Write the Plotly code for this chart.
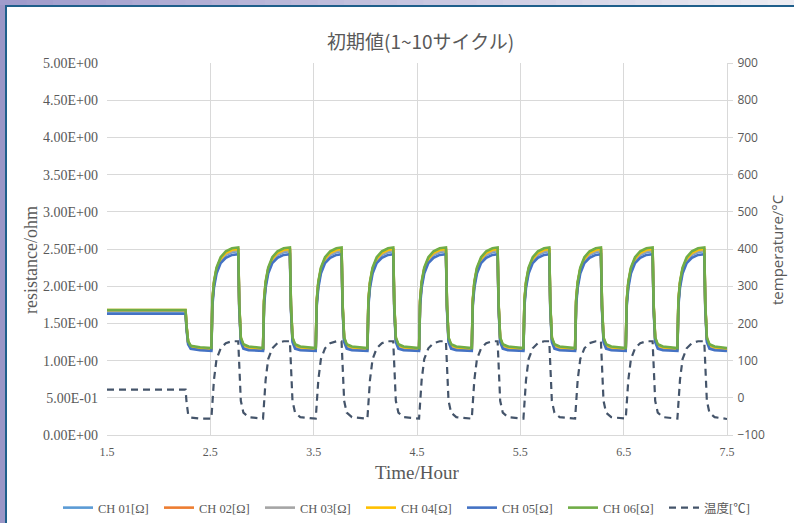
import plotly.graph_objects as go

# ---- data -----------------------------------------------------------------
TIME_HOURS = [
    1.50, 2.26, 2.27, 2.285, 2.31, 2.40,
    2.51, 2.52, 2.535, 2.56, 2.60, 2.65, 2.71, 2.77, 2.78, 2.795, 2.82, 2.87,
    3.01, 3.02, 3.035, 3.06, 3.10, 3.15, 3.21, 3.27, 3.28, 3.295, 3.32, 3.37,
    3.52, 3.53, 3.545, 3.57, 3.61, 3.66, 3.72, 3.77, 3.78, 3.795, 3.82, 3.87,
    4.02, 4.03, 4.045, 4.07, 4.11, 4.16, 4.22, 4.27, 4.28, 4.295, 4.32, 4.37,
    4.52, 4.53, 4.545, 4.57, 4.61, 4.66, 4.72, 4.78, 4.79, 4.805, 4.83, 4.88,
    5.03, 5.04, 5.055, 5.08, 5.12, 5.17, 5.23, 5.28, 5.29, 5.305, 5.33, 5.38,
    5.53, 5.54, 5.555, 5.58, 5.62, 5.67, 5.73, 5.78, 5.79, 5.805, 5.83, 5.88,
    6.03, 6.04, 6.055, 6.08, 6.12, 6.17, 6.23, 6.28, 6.29, 6.305, 6.33, 6.38,
    6.52, 6.53, 6.545, 6.57, 6.61, 6.66, 6.72, 6.78, 6.79, 6.805, 6.83, 6.88,
    7.02, 7.03, 7.045, 7.07, 7.11, 7.16, 7.22, 7.28, 7.29, 7.305, 7.33, 7.38,
    7.50,
]

CH01 = [
    1.66, 1.66, 1.44, 1.24, 1.18, 1.16,
    1.15, 1.78, 2.02, 2.21, 2.35, 2.42, 2.46, 2.47, 1.72, 1.28, 1.19, 1.16,
    1.15, 1.78, 2.02, 2.21, 2.35, 2.42, 2.46, 2.47, 1.72, 1.28, 1.19, 1.16,
    1.15, 1.78, 2.02, 2.21, 2.35, 2.42, 2.46, 2.47, 1.72, 1.28, 1.19, 1.16,
    1.15, 1.78, 2.02, 2.21, 2.35, 2.42, 2.46, 2.47, 1.72, 1.28, 1.19, 1.16,
    1.15, 1.78, 2.02, 2.21, 2.35, 2.42, 2.46, 2.47, 1.72, 1.28, 1.19, 1.16,
    1.15, 1.78, 2.02, 2.21, 2.35, 2.42, 2.46, 2.47, 1.72, 1.28, 1.19, 1.16,
    1.15, 1.78, 2.02, 2.21, 2.35, 2.42, 2.46, 2.47, 1.72, 1.28, 1.19, 1.16,
    1.15, 1.78, 2.02, 2.21, 2.35, 2.42, 2.46, 2.47, 1.72, 1.28, 1.19, 1.16,
    1.15, 1.78, 2.02, 2.21, 2.35, 2.42, 2.46, 2.47, 1.72, 1.28, 1.19, 1.16,
    1.15, 1.78, 2.02, 2.21, 2.35, 2.42, 2.46, 2.47, 1.72, 1.28, 1.19, 1.16,
    1.15,
]

CH02 = [
    1.67, 1.67, 1.45, 1.25, 1.19, 1.17,
    1.16, 1.80, 2.04, 2.23, 2.37, 2.44, 2.48, 2.49, 1.74, 1.29, 1.20, 1.17,
    1.16, 1.80, 2.04, 2.23, 2.37, 2.44, 2.48, 2.49, 1.74, 1.29, 1.20, 1.17,
    1.16, 1.80, 2.04, 2.23, 2.37, 2.44, 2.48, 2.49, 1.74, 1.29, 1.20, 1.17,
    1.16, 1.80, 2.04, 2.23, 2.37, 2.44, 2.48, 2.49, 1.74, 1.29, 1.20, 1.17,
    1.16, 1.80, 2.04, 2.23, 2.37, 2.44, 2.48, 2.49, 1.74, 1.29, 1.20, 1.17,
    1.16, 1.80, 2.04, 2.23, 2.37, 2.44, 2.48, 2.49, 1.74, 1.29, 1.20, 1.17,
    1.16, 1.80, 2.04, 2.23, 2.37, 2.44, 2.48, 2.49, 1.74, 1.29, 1.20, 1.17,
    1.16, 1.80, 2.04, 2.23, 2.37, 2.44, 2.48, 2.49, 1.74, 1.29, 1.20, 1.17,
    1.16, 1.80, 2.04, 2.23, 2.37, 2.44, 2.48, 2.49, 1.74, 1.29, 1.20, 1.17,
    1.16, 1.80, 2.04, 2.23, 2.37, 2.44, 2.48, 2.49, 1.74, 1.29, 1.20, 1.17,
    1.16,
]

CH03 = [
    1.67, 1.67, 1.45, 1.25, 1.19, 1.17,
    1.16, 1.79, 2.03, 2.22, 2.36, 2.43, 2.47, 2.48, 1.73, 1.29, 1.20, 1.17,
    1.16, 1.79, 2.03, 2.22, 2.36, 2.43, 2.47, 2.48, 1.73, 1.29, 1.20, 1.17,
    1.16, 1.79, 2.03, 2.22, 2.36, 2.43, 2.47, 2.48, 1.73, 1.29, 1.20, 1.17,
    1.16, 1.79, 2.03, 2.22, 2.36, 2.43, 2.47, 2.48, 1.73, 1.29, 1.20, 1.17,
    1.16, 1.79, 2.03, 2.22, 2.36, 2.43, 2.47, 2.48, 1.73, 1.29, 1.20, 1.17,
    1.16, 1.79, 2.03, 2.22, 2.36, 2.43, 2.47, 2.48, 1.73, 1.29, 1.20, 1.17,
    1.16, 1.79, 2.03, 2.22, 2.36, 2.43, 2.47, 2.48, 1.73, 1.29, 1.20, 1.17,
    1.16, 1.79, 2.03, 2.22, 2.36, 2.43, 2.47, 2.48, 1.73, 1.29, 1.20, 1.17,
    1.16, 1.79, 2.03, 2.22, 2.36, 2.43, 2.47, 2.48, 1.73, 1.29, 1.20, 1.17,
    1.16, 1.79, 2.03, 2.22, 2.36, 2.43, 2.47, 2.48, 1.73, 1.29, 1.20, 1.17,
    1.16,
]

CH04 = [
    1.68, 1.68, 1.46, 1.25, 1.19, 1.17,
    1.16, 1.80, 2.04, 2.23, 2.37, 2.45, 2.49, 2.50, 1.74, 1.30, 1.21, 1.18,
    1.16, 1.80, 2.04, 2.23, 2.37, 2.45, 2.49, 2.50, 1.74, 1.30, 1.21, 1.18,
    1.16, 1.80, 2.04, 2.23, 2.37, 2.45, 2.49, 2.50, 1.74, 1.30, 1.21, 1.18,
    1.16, 1.80, 2.04, 2.23, 2.37, 2.45, 2.49, 2.50, 1.74, 1.30, 1.21, 1.18,
    1.16, 1.80, 2.04, 2.23, 2.37, 2.45, 2.49, 2.50, 1.74, 1.30, 1.21, 1.18,
    1.16, 1.80, 2.04, 2.23, 2.37, 2.45, 2.49, 2.50, 1.74, 1.30, 1.21, 1.18,
    1.16, 1.80, 2.04, 2.23, 2.37, 2.45, 2.49, 2.50, 1.74, 1.30, 1.21, 1.18,
    1.16, 1.80, 2.04, 2.23, 2.37, 2.45, 2.49, 2.50, 1.74, 1.30, 1.21, 1.18,
    1.16, 1.80, 2.04, 2.23, 2.37, 2.45, 2.49, 2.50, 1.74, 1.30, 1.21, 1.18,
    1.16, 1.80, 2.04, 2.23, 2.37, 2.45, 2.49, 2.50, 1.74, 1.30, 1.21, 1.18,
    1.16,
]

CH05 = [
    1.63, 1.63, 1.42, 1.22, 1.16, 1.14,
    1.13, 1.74, 1.98, 2.17, 2.31, 2.38, 2.42, 2.43, 1.69, 1.25, 1.16, 1.14,
    1.13, 1.74, 1.98, 2.17, 2.31, 2.38, 2.42, 2.43, 1.69, 1.25, 1.16, 1.14,
    1.13, 1.74, 1.98, 2.17, 2.31, 2.38, 2.42, 2.43, 1.69, 1.25, 1.16, 1.14,
    1.13, 1.74, 1.98, 2.17, 2.31, 2.38, 2.42, 2.43, 1.69, 1.25, 1.16, 1.14,
    1.13, 1.74, 1.98, 2.17, 2.31, 2.38, 2.42, 2.43, 1.69, 1.25, 1.16, 1.14,
    1.13, 1.74, 1.98, 2.17, 2.31, 2.38, 2.42, 2.43, 1.69, 1.25, 1.16, 1.14,
    1.13, 1.74, 1.98, 2.17, 2.31, 2.38, 2.42, 2.43, 1.69, 1.25, 1.16, 1.14,
    1.13, 1.74, 1.98, 2.17, 2.31, 2.38, 2.42, 2.43, 1.69, 1.25, 1.16, 1.14,
    1.13, 1.74, 1.98, 2.17, 2.31, 2.38, 2.42, 2.43, 1.69, 1.25, 1.16, 1.14,
    1.13, 1.74, 1.98, 2.17, 2.31, 2.38, 2.42, 2.43, 1.69, 1.25, 1.16, 1.14,
    1.13,
]

CH06 = [
    1.68, 1.68, 1.46, 1.26, 1.20, 1.18,
    1.17, 1.82, 2.06, 2.25, 2.39, 2.47, 2.51, 2.52, 1.76, 1.31, 1.22, 1.19,
    1.17, 1.82, 2.06, 2.25, 2.39, 2.47, 2.51, 2.52, 1.76, 1.31, 1.22, 1.19,
    1.17, 1.82, 2.06, 2.25, 2.39, 2.47, 2.51, 2.52, 1.76, 1.31, 1.22, 1.19,
    1.17, 1.82, 2.06, 2.25, 2.39, 2.47, 2.51, 2.52, 1.76, 1.31, 1.22, 1.19,
    1.17, 1.82, 2.06, 2.25, 2.39, 2.47, 2.51, 2.52, 1.76, 1.31, 1.22, 1.19,
    1.17, 1.82, 2.06, 2.25, 2.39, 2.47, 2.51, 2.52, 1.76, 1.31, 1.22, 1.19,
    1.17, 1.82, 2.06, 2.25, 2.39, 2.47, 2.51, 2.52, 1.76, 1.31, 1.22, 1.19,
    1.17, 1.82, 2.06, 2.25, 2.39, 2.47, 2.51, 2.52, 1.76, 1.31, 1.22, 1.19,
    1.17, 1.82, 2.06, 2.25, 2.39, 2.47, 2.51, 2.52, 1.76, 1.31, 1.22, 1.19,
    1.17, 1.82, 2.06, 2.25, 2.39, 2.47, 2.51, 2.52, 1.76, 1.31, 1.22, 1.19,
    1.17,
]

TEMP_C = [
    22, 22, -12, -44, -53, -56,
    -56, -12, 48, 104, 133, 147, 152, 152, 72, -8, -40, -52,
    -56, -12, 48, 104, 133, 147, 152, 152, 72, -8, -40, -52,
    -56, -12, 48, 104, 133, 147, 152, 152, 72, -8, -40, -52,
    -56, -12, 48, 104, 133, 147, 152, 152, 72, -8, -40, -52,
    -56, -12, 48, 104, 133, 147, 152, 152, 72, -8, -40, -52,
    -56, -12, 48, 104, 133, 147, 152, 152, 72, -8, -40, -52,
    -56, -12, 48, 104, 133, 147, 152, 152, 72, -8, -40, -52,
    -56, -12, 48, 104, 133, 147, 152, 152, 72, -8, -40, -52,
    -56, -12, 48, 104, 133, 147, 152, 152, 72, -8, -40, -52,
    -56, -12, 48, 104, 133, 147, 152, 152, 72, -8, -40, -52,
    -57,
]

SERIES_NAMES = ["CH 01[Ω]", "CH 02[Ω]", "CH 03[Ω]", "CH 04[Ω]", "CH 05[Ω]", "CH 06[Ω]"]
TEMP_NAME = "温度[℃]"

X_TICKS = [1.5, 2.5, 3.5, 4.5, 5.5, 6.5, 7.5]
R_TICKS = [0.0, 0.5, 1.0, 1.5, 2.0, 2.5, 3.0, 3.5, 4.0, 4.5, 5.0]
R_TICK_TEXT = ["0.00E+00", "5.00E-01", "1.00E+00", "1.50E+00", "2.00E+00",
               "2.50E+00", "3.00E+00", "3.50E+00", "4.00E+00", "4.50E+00", "5.00E+00"]
T_TICKS = [-100, 0, 100, 200, 300, 400, 500, 600, 700, 800, 900]

# ---- styling ----------------------------------------------------------------
W, H = 794, 523
L, R, T, B = 107, 67, 63, 88          # plot area: x 107..727, y 63..435
PW, PH = W - L - R, H - T - B

COLORS = ["#5B9BD5", "#ED7D31", "#A5A5A5", "#FFC000", "#4472C4", "#70AD47"]
TEMP_COLOR = "#44546A"
GRID = "#D9D9D9"
TXT = "#595959"
SERIF = "Liberation Serif, Times New Roman, serif"
SANS = "Open Sans, Noto Sans, sans-serif"
CJK = "Noto Sans CJK JP, sans-serif"


def px_x(px):
    return (px - L) / PW


def px_y(py):
    return (H - B - py) / PH


fig = go.Figure()

for name, vals, col in zip(SERIES_NAMES, [CH01, CH02, CH03, CH04, CH05, CH06], COLORS):
    fig.add_trace(go.Scatter(
        x=TIME_HOURS, y=vals, name=name, mode="lines",
        line=dict(color=col, width=2.6),
    ))

fig.add_trace(go.Scatter(
    x=TIME_HOURS, y=TEMP_C, name=TEMP_NAME, mode="lines", yaxis="y2",
    line=dict(color=TEMP_COLOR, width=2.2, dash="7px,5px"),
))

# window frame: lavender edge strips with a dark blue rule
shapes = [
    dict(type="rect", xref="paper", yref="paper",
         x0=px_x(0), x1=px_x(5), y0=px_y(H), y1=px_y(0),
         fillcolor="#9A96C6", line_width=0, layer="above"),
]
n_seg = 30
c0 = (160, 156, 204)
c1 = (236, 236, 242)
for i in range(n_seg):
    f = i / (n_seg - 1)
    col = tuple(round(a + (b - a) * f) for a, b in zip(c0, c1))
    shapes.append(dict(
        type="rect", xref="paper", yref="paper",
        x0=px_x(W * i / n_seg), x1=px_x(W * (i + 1) / n_seg + 1),
        y0=px_y(5), y1=px_y(0),
        fillcolor="rgb(%d,%d,%d)" % col, line_width=0, layer="above"))
shapes += [
    dict(type="rect", xref="paper", yref="paper",
         x0=px_x(5), x1=px_x(7), y0=px_y(H), y1=px_y(5),
         fillcolor="#1F5F8B", line_width=0, layer="above"),
    dict(type="rect", xref="paper", yref="paper",
         x0=px_x(5), x1=px_x(W), y0=px_y(7), y1=px_y(5),
         fillcolor="#1F5F8B", line_width=0, layer="above"),
]


def label(text, px, py, family, size, angle=0):
    return dict(text=text, x=px_x(px), y=px_y(py), xref="paper", yref="paper",
                xanchor="center", yanchor="middle", showarrow=False,
                textangle=angle, font=dict(family=family, size=size, color=TXT))


annotations = [
    label("初期値(1~10サイクル)", 420, 40, CJK, 19),
    label("Time/Hour", 417, 473, SERIF, 19),
    label("resistance/ohm", 31, 260, SERIF, 18, -90),
    label("temperature/°C", 777, 250, SANS, 15, -90),
]

fig.update_layout(
    width=W, height=H,
    margin=dict(l=L, r=R, t=T, b=B, autoexpand=False),
    paper_bgcolor="white", plot_bgcolor="white",
    showlegend=True,
    legend=dict(orientation="h", x=px_x(58), xanchor="left",
                y=px_y(508), yanchor="middle",
                font=dict(family=SERIF + ", " + CJK, size=12.5, color=TXT),
                entrywidth=56, entrywidthmode="pixels", itemwidth=30,
                bgcolor="rgba(0,0,0,0)"),
    xaxis=dict(range=[1.5, 7.5], tickvals=X_TICKS, ticktext=[str(v) for v in X_TICKS],
               showgrid=True, gridcolor=GRID, gridwidth=1, zeroline=False,
               showline=True, linecolor=GRID, ticks="", ticklabelstandoff=6,
               tickfont=dict(family=SERIF, size=12, color=TXT)),
    yaxis=dict(range=[0, 5], tickvals=R_TICKS, ticktext=R_TICK_TEXT,
               showgrid=True, gridcolor=GRID, gridwidth=1, zeroline=False,
               showline=False, ticks="", ticklabelstandoff=8,
               tickfont=dict(family=SERIF, size=14, color=TXT)),
    yaxis2=dict(range=[-100, 900], tickvals=T_TICKS, overlaying="y", side="right",
                showgrid=False, zeroline=False, showline=True, linecolor=GRID,
                ticks="outside", ticklen=5, tickcolor=GRID, ticklabelstandoff=2,
                tickfont=dict(family=SANS, size=12, color=TXT)),
    shapes=shapes,
    annotations=annotations,
)

fig.write_html("out.html")
